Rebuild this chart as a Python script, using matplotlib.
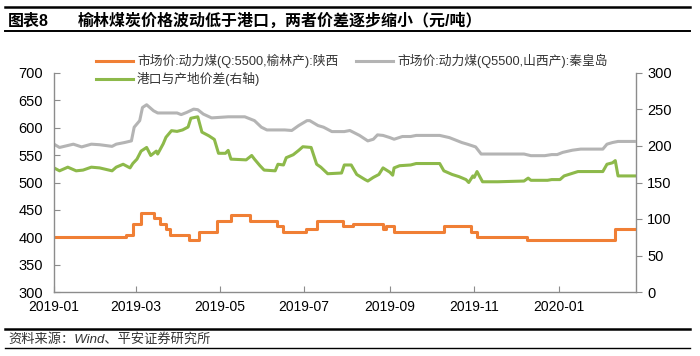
import matplotlib
matplotlib.use('Agg')
import matplotlib.pyplot as plt
import matplotlib.dates as mdates
import pandas as pd

plt.rcParams['font.family'] = ['Liberation Sans', 'Noto Sans CJK SC', 'DejaVu Sans']

# 市场价:动力煤(Q:5500,榆林产):陕西  (left axis, step changes)
yulin_dates = ['2019-01-01', '2019-02-22', '2019-02-27', '2019-03-05', '2019-03-14',
               '2019-03-19', '2019-03-23', '2019-03-26', '2019-04-09', '2019-04-16',
               '2019-04-29', '2019-05-09', '2019-05-23', '2019-06-11', '2019-06-16',
               '2019-07-02', '2019-07-10', '2019-07-29', '2019-08-05', '2019-08-27',
               '2019-08-29', '2019-09-04', '2019-10-10', '2019-10-30', '2019-11-03',
               '2019-12-09', '2020-02-11', '2020-02-26']
yulin_vals = [400, 405, 425, 445, 435,
              425, 415, 405, 395, 410,
              430, 440, 430, 420, 410,
              415, 430, 420, 425, 415,
              420, 410, 420, 410, 400,
              395, 415, 415]

# 市场价:动力煤(Q5500,山西产):秦皇岛  (left axis)
qhd_dates = ['2019-01-01', '2019-01-05', '2019-01-15', '2019-01-21', '2019-01-28',
             '2019-02-03', '2019-02-12', '2019-02-15', '2019-02-21', '2019-02-26',
             '2019-02-28', '2019-03-04', '2019-03-06', '2019-03-09', '2019-03-14',
             '2019-03-17', '2019-03-31', '2019-04-03', '2019-04-07', '2019-04-12',
             '2019-04-15', '2019-04-19', '2019-04-25', '2019-05-07', '2019-05-19',
             '2019-05-26', '2019-05-31', '2019-06-04', '2019-06-17', '2019-06-22',
             '2019-06-27', '2019-07-03', '2019-07-05', '2019-07-11', '2019-07-15',
             '2019-07-21', '2019-07-30', '2019-08-03', '2019-08-10', '2019-08-16',
             '2019-08-20', '2019-08-23', '2019-08-27', '2019-09-01', '2019-09-04',
             '2019-09-10', '2019-09-16', '2019-09-20', '2019-10-07', '2019-10-14',
             '2019-10-23', '2019-10-27', '2019-11-02', '2019-11-06', '2019-12-07',
             '2019-12-12', '2019-12-22', '2019-12-27', '2019-12-31', '2020-01-04',
             '2020-01-11', '2020-01-17', '2020-02-02', '2020-02-05', '2020-02-09',
             '2020-02-13', '2020-02-25']
qhd_vals = [570, 564, 570, 565, 570,
            569, 566, 570, 573, 576,
            601, 613, 637, 642, 631,
            627, 627, 624, 628, 634,
            633, 625, 618, 620, 620,
            613, 601, 596, 596, 595,
            604, 613, 613, 604, 601,
            593, 593, 595, 586, 576,
            579, 587, 586, 582, 579,
            584, 584, 586, 586, 582,
            573, 570, 565, 552, 552,
            549, 549, 551, 551, 555,
            559, 561, 561, 570, 573,
            575, 575]

# 港口与产地价差(右轴)
spread_dates = ['2019-01-01', '2019-01-05', '2019-01-11', '2019-01-17', '2019-01-22',
                '2019-01-28', '2019-02-03', '2019-02-12', '2019-02-15', '2019-02-20',
                '2019-02-25', '2019-02-27', '2019-03-02', '2019-03-05', '2019-03-09',
                '2019-03-12', '2019-03-16', '2019-03-17', '2019-03-21', '2019-03-23',
                '2019-03-27', '2019-03-31', '2019-04-04', '2019-04-08', '2019-04-10',
                '2019-04-15', '2019-04-18', '2019-04-23', '2019-04-27', '2019-04-30',
                '2019-05-05', '2019-05-07', '2019-05-09', '2019-05-20', '2019-05-24',
                '2019-05-26', '2019-05-30', '2019-06-02', '2019-06-10', '2019-06-12',
                '2019-06-16', '2019-06-18', '2019-06-23', '2019-06-27', '2019-06-30',
                '2019-07-06', '2019-07-10', '2019-07-13', '2019-07-18', '2019-07-28',
                '2019-07-30', '2019-08-04', '2019-08-08', '2019-08-14', '2019-08-16',
                '2019-08-20', '2019-08-24', '2019-08-27', '2019-09-01', '2019-09-03',
                '2019-09-04', '2019-09-08', '2019-09-16', '2019-09-20', '2019-10-07',
                '2019-10-10', '2019-10-16', '2019-10-21', '2019-10-26', '2019-10-28',
                '2019-10-31', '2019-11-01', '2019-11-03', '2019-11-07', '2019-11-18',
                '2019-12-07', '2019-12-10', '2019-12-12', '2019-12-24', '2019-12-27',
                '2020-01-02', '2020-01-05', '2020-01-10', '2020-01-15', '2020-02-02',
                '2020-02-05', '2020-02-09', '2020-02-11', '2020-02-13', '2020-02-25']
spread_vals = [170, 166, 171, 166, 167,
               171, 170, 166, 171, 175,
               170, 176, 182, 193, 198,
               187, 193, 189, 203, 212,
               221, 220, 222, 226, 238,
               240, 219, 214, 209, 190,
               190, 194, 182, 181, 187,
               182, 173, 167, 166, 175,
               174, 184, 188, 194, 199,
               198, 175, 171, 162, 163,
               174, 174, 161, 154, 152,
               157, 161, 170, 164, 160,
               170, 173, 174, 176, 176,
               166, 161, 158, 154, 150,
               159, 157, 165, 151, 151,
               152, 156, 153, 153, 154,
               154, 159, 162, 165, 165,
               175, 177, 180, 159, 159]

label_yulin = '市场价:动力煤(Q:5500,榆林产):陕西'
label_qhd = '市场价:动力煤(Q5500,山西产):秦皇岛'
label_spread = '港口与产地价差(右轴)'

c_orange = '#F07F35'
c_gray = '#B4B4B4'
c_green = '#8DB94A'
spine_c = '#8C8C8C'

fig = plt.figure(figsize=(7, 3.56), dpi=100)
ax = fig.add_axes([54 / 700, 1 - 292 / 356, (636 - 54) / 700, (292 - 73) / 356])
ax2 = ax.twinx()

l1, = ax.plot(pd.to_datetime(yulin_dates), yulin_vals, color=c_orange, lw=2.2,
              drawstyle='steps-post', label=label_yulin)
l2, = ax.plot(pd.to_datetime(qhd_dates), qhd_vals, color=c_gray, lw=2.2, label=label_qhd)
l3, = ax2.plot(pd.to_datetime(spread_dates), spread_vals, color=c_green, lw=2.2,
               label=label_spread)
ax.set_zorder(ax2.get_zorder() + 1)
ax.patch.set_visible(False)

ax.set_ylim(300, 700)
ax.set_yticks(range(300, 701, 50))
ax2.set_ylim(0, 300)
ax2.set_yticks(range(0, 301, 50))
ax.set_xlim(pd.Timestamp('2019-01-01'), pd.Timestamp('2020-02-26'))
ax.xaxis.set_major_locator(mdates.MonthLocator(bymonth=[1, 3, 5, 7, 9, 11]))
ax.xaxis.set_major_formatter(mdates.DateFormatter('%Y-%m'))

for a in (ax, ax2):
    a.spines['top'].set_visible(False)
    for s in ('left', 'right', 'bottom'):
        a.spines[s].set_color(spine_c)
        a.spines[s].set_linewidth(1.0)
ax.spines['right'].set_visible(False)
ax2.spines['left'].set_visible(False)
ax2.spines['bottom'].set_visible(False)

ax.tick_params(axis='y', direction='in', length=4, color=spine_c, labelsize=10.5, pad=8)
ax.tick_params(axis='x', direction='in', length=4, color=spine_c, labelsize=10, pad=6)
ax2.tick_params(axis='y', direction='out', length=4, color=spine_c, labelsize=10.5, pad=4)

fig.legend(handles=[l1, l3, l2], loc='upper left', bbox_to_anchor=(96 / 700, 1 - 54 / 356),
           ncol=2, frameon=False, fontsize=9.2, handlelength=2.9, columnspacing=1.4,
           handletextpad=0.3, labelspacing=0.3, borderaxespad=0, borderpad=0,
           labelcolor='#333333')

# header and footer
fig.add_artist(plt.Line2D([5 / 700, 690 / 700], [1 - 7 / 356] * 2, color='black', lw=1.8))
fig.add_artist(plt.Line2D([5 / 700, 690 / 700], [1 - 31 / 356] * 2, color='black', lw=1.4))
fig.text(8 / 700, 1 - 21 / 356, '图表8', fontsize=11.5, fontweight='bold', va='center')
fig.text(78 / 700, 1 - 21 / 356, '榆林煤炭价格波动低于港口，两者价差逐步缩小（元/吨）',
         fontsize=11.5, fontweight='bold', va='center')
fig.add_artist(plt.Line2D([5 / 700, 690 / 700], [1 - 329 / 356] * 2, color='black', lw=1.8))
fig.add_artist(plt.Line2D([5 / 700, 690 / 700], [1 - 348 / 356] * 2, color='black', lw=1.0))
fig.text(8 / 700, 1 - 339 / 356, '资料来源：Wind、平安证券研究所', fontsize=9.5,
         style='italic', color='#333333', va='center')

fig.savefig('out.png', dpi=100)
